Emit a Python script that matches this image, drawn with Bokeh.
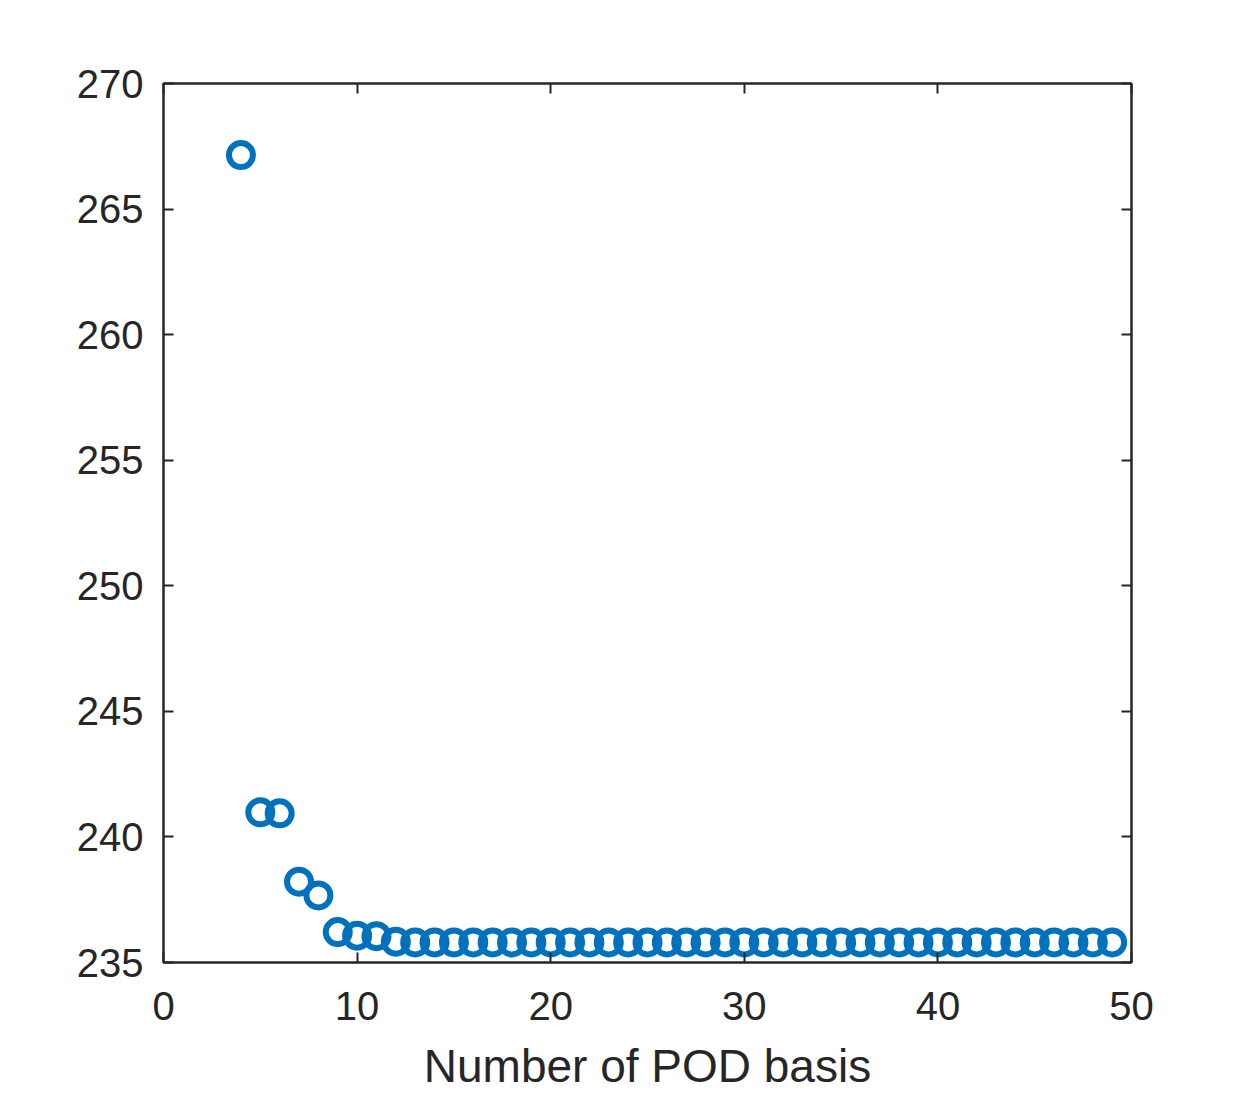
from bokeh.plotting import figure
from bokeh.models import LinearAxis, FixedTicker, Range1d
from bokeh.embed import file_html
from bokeh.resources import INLINE

n_basis = list(range(4, 50))
values = [267.15, 240.98, 240.94, 238.22, 237.67, 236.21, 236.07, 236.05, 235.83] + [235.8] * 37

x_ticks = [0, 10, 20, 30, 40, 50]
y_ticks = [235, 240, 245, 250, 255, 260, 265, 270]
x_label = "Number of POD basis"

AX = "#262626"
FONT = "Liberation Sans"

p = figure(width=1234, height=1094, output_backend="svg", toolbar_location=None,
           x_range=Range1d(0, 50), y_range=Range1d(235, 270),
           x_axis_location=None, y_axis_location=None,
           min_border_left=163, min_border_right=103, min_border_top=83, min_border_bottom=100)
p.grid.visible = False
p.outline_line_color = AX
p.outline_line_width = 2
p.background_fill_color = "white"
p.border_fill_color = "white"

def style(ax, labels=True):
    ax.axis_line_color = AX
    ax.axis_line_width = 2
    ax.major_tick_line_color = AX
    ax.major_tick_line_width = 2
    ax.major_tick_in = 10
    ax.major_tick_out = 0
    ax.minor_tick_line_color = None
    ax.major_label_text_font = FONT
    ax.major_label_text_font_size = "40px"
    ax.major_label_text_color = AX
    if not labels:
        ax.major_label_text_font_size = "0px"
        ax.major_label_text_color = None

xb = LinearAxis(ticker=FixedTicker(ticks=x_ticks), axis_label=x_label)
style(xb)
xb.major_label_standoff = 29
xb.axis_label_text_font = FONT
xb.axis_label_text_font_size = "46px"
xb.axis_label_text_font_style = "normal"
xb.axis_label_text_color = AX
xb.axis_label_standoff = 17
p.add_layout(xb, "below")

yl = LinearAxis(ticker=FixedTicker(ticks=y_ticks))
style(yl)
yl.major_label_standoff = 20
p.add_layout(yl, "left")

xt = LinearAxis(ticker=FixedTicker(ticks=x_ticks))
style(xt, labels=False)
p.add_layout(xt, "above")

yr = LinearAxis(ticker=FixedTicker(ticks=y_ticks))
style(yr, labels=False)
p.add_layout(yr, "right")

p.scatter(n_basis, values, marker="circle", size=24, fill_color=None,
          line_color="#0072BD", line_width=6)

open("out.html", "w").write(file_html(p, INLINE))
